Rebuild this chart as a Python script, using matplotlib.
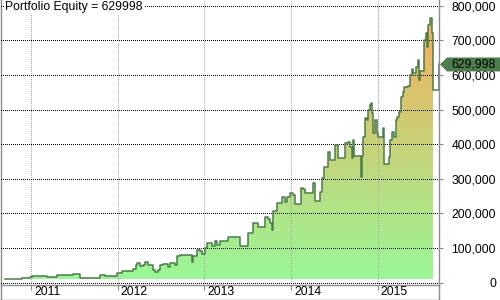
import numpy as np
import matplotlib
matplotlib.use("Agg")
import matplotlib.pyplot as plt
from matplotlib.colors import LinearSegmentedColormap
from matplotlib.transforms import ScaledTranslation, IdentityTransform
from matplotlib.patches import PathPatch, Polygon
from matplotlib.lines import Line2D

plt.rcParams['font.family'] = ['Liberation Sans', 'DejaVu Sans']

# ---- data (decimal years, equity in thousands) ----
dates = [2010.700, 2010.804, 2010.896, 2010.988, 2011.012, 2011.150, 2011.185, 2011.288,
         2011.300, 2011.473, 2011.484, 2011.531, 2011.565, 2011.784, 2011.796, 2011.842,
         2011.854, 2011.980, 2011.992, 2012.050, 2012.165, 2012.176, 2012.211, 2012.223,
         2012.257, 2012.292, 2012.315, 2012.349, 2012.396, 2012.407, 2012.430, 2012.465,
         2012.488, 2012.522, 2012.569, 2012.580, 2012.603, 2012.638, 2012.661, 2012.684,
         2012.719, 2012.834, 2012.857, 2012.869, 2012.915, 2012.949, 2012.972, 2013.007,
         2013.030, 2013.065, 2013.088, 2013.122, 2013.145, 2013.180, 2013.261, 2013.272,
         2013.388, 2013.411, 2013.491, 2013.503, 2013.549, 2013.561, 2013.607, 2013.618,
         2013.676, 2013.699, 2013.722, 2013.734, 2013.757, 2013.780, 2013.791, 2013.837,
         2013.872, 2013.895, 2013.930, 2013.953, 2013.987, 2014.022, 2014.045, 2014.091,
         2014.114, 2014.137, 2014.160, 2014.241, 2014.253, 2014.276, 2014.310, 2014.333,
         2014.356, 2014.379, 2014.414, 2014.426, 2014.449, 2014.483, 2014.506, 2014.529,
         2014.541, 2014.610, 2014.622, 2014.656, 2014.679, 2014.702, 2014.714, 2014.725,
         2014.795, 2014.806, 2014.818, 2014.829, 2014.852, 2014.875, 2014.887, 2014.910,
         2014.922, 2014.933, 2014.945, 2014.968, 2014.991, 2015.002, 2015.048, 2015.060,
         2015.072, 2015.118, 2015.129, 2015.141, 2015.164, 2015.187, 2015.210, 2015.221,
         2015.245, 2015.268, 2015.291, 2015.302, 2015.348, 2015.371, 2015.394, 2015.406,
         2015.429, 2015.441, 2015.464, 2015.475, 2015.487, 2015.521, 2015.533, 2015.556,
         2015.567, 2015.579, 2015.602, 2015.625, 2015.637, 2015.694, 2015.706]
equity_k = [10, 11, 14, 18, 21, 21, 16, 16,
            22, 22, 25, 25, 15, 15, 22, 22,
            20, 20, 28, 33, 33, 40, 52, 56,
            48, 50, 60, 52, 50, 38, 30, 38,
            52, 55, 54, 46, 58, 58, 52, 77,
            80, 80, 61, 77, 94, 91, 82, 101,
            114, 114, 105, 120, 110, 120, 120, 133,
            133, 106, 106, 143, 143, 172, 172, 160,
            160, 190, 191, 185, 172, 152, 208, 229,
            229, 248, 232, 248, 258, 253, 227, 227,
            273, 270, 258, 258, 287, 237, 237, 262,
            301, 335, 335, 378, 354, 354, 398, 398,
            359, 359, 402, 407, 393, 360, 412, 365,
            365, 306, 365, 421, 475, 470, 498, 513,
            519, 489, 431, 470, 431, 421, 421, 446,
            343, 343, 364, 412, 436, 421, 470, 479,
            494, 537, 551, 566, 569, 600, 616, 605,
            605, 624, 643, 585, 610, 610, 700, 720,
            680, 744, 763, 720, 556, 556, 629.998]

years = [2011, 2012, 2013, 2014, 2015]
year_labels = [str(y) for y in years]
y_ticks = list(range(0, 800001, 100000))
y_labels = [f"{v:,}" for v in y_ticks]
title = "Portfolio Equity = 629998"

dates = np.array(dates)
equity = np.array(equity_k) * 1000.0

line_color = '#4A7D4A'
spine_color = '#8C8C8C'

W, H = 500, 300
fig = plt.figure(figsize=(5, 3), dpi=100)
ax = fig.add_axes([1 / W, 15 / H, 438 / W, 285 / H])
ax.set_xlim(2010.654, 2015.706)
ax.set_ylim(-6300, 816000)

# gradient fill under the curve
base = equity[0]
fill = ax.fill_between(dates[:-2], equity[:-2], base, step='post',
                       facecolor='none', edgecolor='none')
clip = PathPatch(fill.get_paths()[0], transform=ax.transData,
                 facecolor='none', edgecolor='none')
ax.add_patch(clip)
cmap = LinearSegmentedColormap.from_list('eq', ['#98F898', '#F5AE5C'])
grad = np.linspace(0, 1, 256).reshape(-1, 1)
im = ax.imshow(grad, extent=[dates[0], dates[-1], 0, equity.max()], origin='lower',
               aspect='auto', cmap=cmap, zorder=1, interpolation='bilinear')
im.set_clip_path(clip)
ax.set_xlim(2010.654, 2015.706)
ax.set_ylim(-6300, 816000)

ax.step(dates, equity, where='post', color=line_color, lw=1.1, zorder=3)

# grid (crisp dotted lines)
ax.set_axisbelow(False)
ax.set_yticks(y_ticks, labels=y_labels)
ax.set_xticks(years, labels=year_labels)
ax.yaxis.grid(True, color='black', linestyle=(0, (0.5, 1.5)), linewidth=0.72)
ax.xaxis.grid(True, color='#A8A8A8', linestyle=(0, (0.5, 1.5)), linewidth=0.72)
for gl in ax.get_xgridlines() + ax.get_ygridlines():
    gl.set_antialiased(False)
    gl.set_dash_capstyle('butt')

# spines
ax.spines['top'].set_visible(False)
for s in ['left', 'right', 'bottom']:
    ax.spines[s].set_color(spine_color)
    ax.spines[s].set_linewidth(1.0)

ax.yaxis.tick_right()
ax.tick_params(axis='y', direction='out', length=2.9, color=spine_color,
               labelsize=8.8, pad=38.2)
for lbl in ax.get_yticklabels():
    lbl.set_horizontalalignment('right')
ax.tick_params(axis='x', direction='out', length=3.6, color=spine_color,
               labelsize=8.8, pad=-3.0)
off = ScaledTranslation(3 / 100, 0, fig.dpi_scale_trans)
for lbl in ax.get_xticklabels():
    lbl.set_horizontalalignment('left')
    lbl.set_transform(lbl.get_transform() + off)

# title
ax.text(4 / 438, 1 - 7 / 285, title, transform=ax.transAxes, fontsize=8.8,
        va='center', ha='left', zorder=5,
        bbox=dict(facecolor='white', edgecolor='none', pad=1.0))

# frame pieces outside the axes
fig.add_artist(Line2D([0.5 / W, 0.5 / W], [0, 15 / H], color=spine_color, lw=1.0))
fig.add_artist(Line2D([0, 439 / W], [0.5 / H, 0.5 / H], color=spine_color, lw=1.0))
fig.add_artist(Line2D([439 / W, 439 / W], [0, 15 / H], color=spine_color, lw=1.0))

# last value marker box
fig.canvas.draw()
axx, ayy = ax.transData.transform((ax.get_xlim()[1], equity[-1]))
verts = [(axx + 1, ayy), (axx + 8, ayy + 7), (W, ayy + 7), (W, ayy - 7), (axx + 8, ayy - 7)]
fig.add_artist(Polygon(verts, closed=True, transform=IdentityTransform(),
                       facecolor='#4E7D4E', edgecolor='none', zorder=5))
fig.add_artist(plt.Text(496, ayy, f"{equity[-1]:,.0f}", transform=IdentityTransform(),
                        ha='right', va='center', fontsize=8.8, color='black', zorder=6))

fig.savefig('out.png', dpi=100)
